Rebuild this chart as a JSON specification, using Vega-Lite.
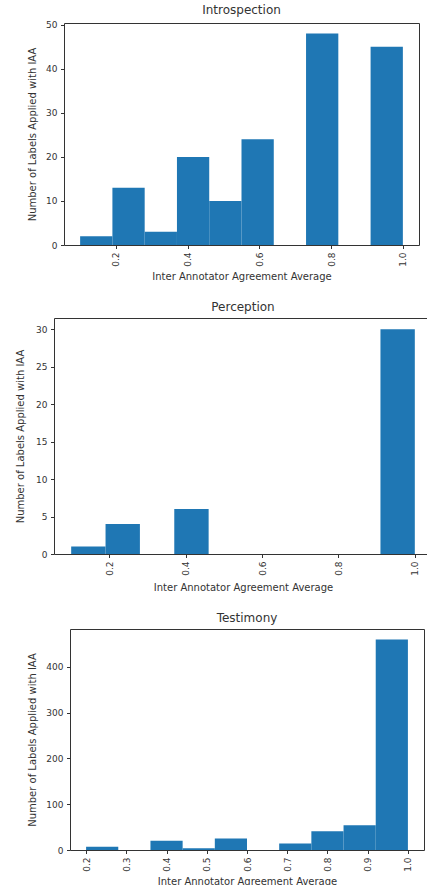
{
  "$schema": "https://vega.github.io/schema/vega-lite/v6.json",
  "padding": {"left": 7, "top": 3, "right": 0, "bottom": 0},
  "background": "white",
  "datasets": {
    "hist": [
      {"p": "Introspection", "start": 0.10, "end": 0.19, "count": 2},
      {"p": "Introspection", "start": 0.19, "end": 0.28, "count": 13},
      {"p": "Introspection", "start": 0.28, "end": 0.37, "count": 3},
      {"p": "Introspection", "start": 0.37, "end": 0.46, "count": 20},
      {"p": "Introspection", "start": 0.46, "end": 0.55, "count": 10},
      {"p": "Introspection", "start": 0.55, "end": 0.64, "count": 24},
      {"p": "Introspection", "start": 0.64, "end": 0.73, "count": 0},
      {"p": "Introspection", "start": 0.73, "end": 0.82, "count": 48},
      {"p": "Introspection", "start": 0.82, "end": 0.91, "count": 0},
      {"p": "Introspection", "start": 0.91, "end": 1.00, "count": 45},
      {"p": "Perception", "start": 0.10, "end": 0.19, "count": 1},
      {"p": "Perception", "start": 0.19, "end": 0.28, "count": 4},
      {"p": "Perception", "start": 0.28, "end": 0.37, "count": 0},
      {"p": "Perception", "start": 0.37, "end": 0.46, "count": 6},
      {"p": "Perception", "start": 0.46, "end": 0.55, "count": 0},
      {"p": "Perception", "start": 0.55, "end": 0.64, "count": 0},
      {"p": "Perception", "start": 0.64, "end": 0.73, "count": 0},
      {"p": "Perception", "start": 0.73, "end": 0.82, "count": 0},
      {"p": "Perception", "start": 0.82, "end": 0.91, "count": 0},
      {"p": "Perception", "start": 0.91, "end": 1.00, "count": 30},
      {"p": "Testimony", "start": 0.20, "end": 0.28, "count": 7},
      {"p": "Testimony", "start": 0.28, "end": 0.36, "count": 0},
      {"p": "Testimony", "start": 0.36, "end": 0.44, "count": 20},
      {"p": "Testimony", "start": 0.44, "end": 0.52, "count": 4},
      {"p": "Testimony", "start": 0.52, "end": 0.60, "count": 25},
      {"p": "Testimony", "start": 0.60, "end": 0.68, "count": 0},
      {"p": "Testimony", "start": 0.68, "end": 0.76, "count": 14},
      {"p": "Testimony", "start": 0.76, "end": 0.84, "count": 41},
      {"p": "Testimony", "start": 0.84, "end": 0.92, "count": 54},
      {"p": "Testimony", "start": 0.92, "end": 1.00, "count": 460}
    ]
  },
  "config": {
    "font": "DejaVu Sans",
    "view": {"stroke": "#333", "strokeWidth": 1},
    "axis": {
      "domain": false, "grid": false, "ticks": true, "tickSize": 3.5, "tickColor": "#333",
      "labelFont": "DejaVu Sans", "labelFontSize": 9, "labelColor": "#333", "labelPadding": 3.5, "labelFlush": false,
      "titleFont": "DejaVu Sans", "titleFontSize": 10, "titleFontWeight": "normal", "titleColor": "#333"
    },
    "axisX": {"titlePadding": 5},
    "title": {"font": "DejaVu Sans", "fontSize": 12, "fontWeight": "normal", "color": "#333", "offset": 4, "frame": "group"},
    "concat": {"spacing": 18}
  },
  "vconcat": [
    {
      "spacing": 0,
      "hconcat": [
        {"width": 17, "height": 1, "data": {"values": [{"a": 1}]}, "mark": {"type": "point", "opacity": 0}, "view": {"stroke": null}},
        {
          "width": 355, "height": 222,
          "title": {"text": "Introspection"},
          "data": {"name": "hist"},
          "transform": [{"filter": "datum.p === 'Introspection'"}],
          "mark": {"type": "rect", "color": "#1f77b4"},
          "encoding": {
            "x": {"field": "start", "type": "quantitative", "scale": {"domain": [0.055, 1.045], "nice": false, "zero": false},
                  "axis": {"values": [0.2, 0.4, 0.6, 0.8, 1.0], "format": ".1f", "labelAngle": 270, "title": "Inter Annotator Agreement Average"}},
            "x2": {"field": "end"},
            "y": {"field": "count", "type": "quantitative", "scale": {"domain": [0, 50.4], "nice": false},
                  "axis": {"values": [0, 10, 20, 30, 40, 50], "title": "Number of Labels Applied with IAA", "titlePadding": 8}},
            "y2": {"datum": 0}
          }
        }
      ]
    },
    {
      "spacing": 0,
      "hconcat": [
        {"width": 1, "height": 1, "data": {"values": [{"a": 1}]}, "mark": {"type": "point", "opacity": 0}, "view": {"stroke": null}},
        {
          "width": 378, "height": 236,
          "title": {"text": "Perception"},
          "data": {"name": "hist"},
          "transform": [{"filter": "datum.p === 'Perception'"}],
          "mark": {"type": "rect", "color": "#1f77b4"},
          "encoding": {
            "x": {"field": "start", "type": "quantitative", "scale": {"domain": [0.055, 1.045], "nice": false, "zero": false},
                  "axis": {"values": [0.2, 0.4, 0.6, 0.8, 1.0], "format": ".1f", "labelAngle": 270, "title": "Inter Annotator Agreement Average", "titlePadding": 7}},
            "x2": {"field": "end"},
            "y": {"field": "count", "type": "quantitative", "scale": {"domain": [0, 31.5], "nice": false},
                  "axis": {"values": [0, 5, 10, 15, 20, 25, 30], "title": "Number of Labels Applied with IAA", "titlePadding": 10.5}},
            "y2": {"datum": 0}
          }
        }
      ]
    },
    {
      "spacing": 0,
      "hconcat": [
        {"width": 17, "height": 1, "data": {"values": [{"a": 1}]}, "mark": {"type": "point", "opacity": 0}, "view": {"stroke": null}},
        {
          "width": 354, "height": 221,
          "title": {"text": "Testimony"},
          "data": {"name": "hist"},
          "transform": [{"filter": "datum.p === 'Testimony'"}],
          "mark": {"type": "rect", "color": "#1f77b4"},
          "encoding": {
            "x": {"field": "start", "type": "quantitative", "scale": {"domain": [0.16, 1.04], "nice": false, "zero": false},
                  "axis": {"values": [0.2, 0.3, 0.4, 0.5, 0.6, 0.7, 0.8, 0.9, 1.0], "format": ".1f", "labelAngle": 270, "title": "Inter Annotator Agreement Average"}},
            "x2": {"field": "end"},
            "y": {"field": "count", "type": "quantitative", "scale": {"domain": [0, 483], "nice": false},
                  "axis": {"values": [0, 100, 200, 300, 400], "title": "Number of Labels Applied with IAA", "titlePadding": 8}},
            "y2": {"datum": 0}
          }
        }
      ]
    }
  ]
}
